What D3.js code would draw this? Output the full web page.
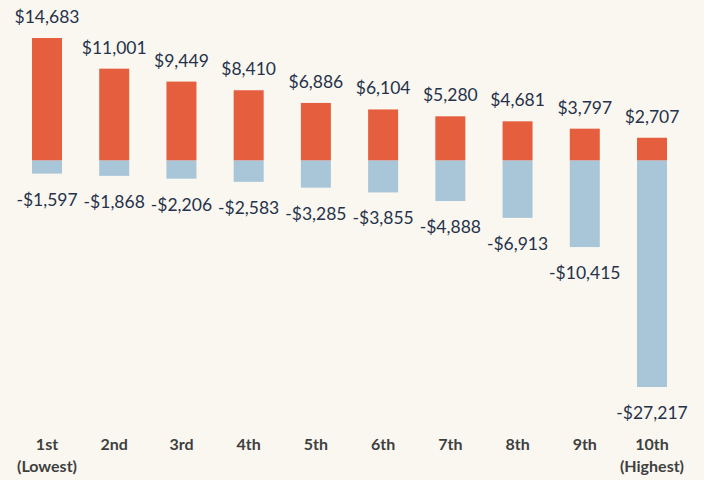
<!DOCTYPE html>
<html>
<head>
<meta charset="utf-8">
<script src="https://cdn.jsdelivr.net/npm/d3@7"></script>
<style>
  body { margin: 0; background: #f9f7f0; }
  svg { display: block; }
  .val { font-family: Lato, "Open Sans", sans-serif; font-size: 17.5px; fill: #26324a; }
  .cat { font-family: Lato, "Open Sans", sans-serif; font-size: 16px; font-weight: bold; fill: #3f3f3f; }
</style>
</head>
<body>
<div id="vis"></div>
<script>
const categories = ["1st", "2nd", "3rd", "4th", "5th", "6th", "7th", "8th", "9th", "10th"];
const subLabels = ["(Lowest)", "", "", "", "", "", "", "", "", "(Highest)"];
const gains = [14683, 11001, 9449, 8410, 6886, 6104, 5280, 4681, 3797, 2707];
const losses = [-1597, -1868, -2206, -2583, -3285, -3855, -4888, -6913, -10415, -27217];

const width = 704, height = 480;
const barWidth = 30;
const fmt = d3.format(",");
const money = v => (v < 0 ? "-$" : "$") + fmt(Math.abs(v));

const svg = d3.select("#vis").append("svg")
  .attr("width", width)
  .attr("height", height);

const x = d3.scalePoint().domain(categories).range([47, 652]);
const y = d3.scaleLinear().domain([d3.min(losses), d3.max(gains)]).range([387, 38]);

const rows = categories.map((c, i) => ({ cat: c, sub: subLabels[i], gain: gains[i], loss: losses[i] }));

// negative bars
svg.append("g").selectAll("rect")
  .data(rows).enter().append("rect")
  .attr("x", d => x(d.cat) - barWidth / 2)
  .attr("y", y(0))
  .attr("width", barWidth)
  .attr("height", d => y(d.loss) - y(0))
  .attr("fill", "#a9c6d8");

// positive bars
svg.append("g").selectAll("rect")
  .data(rows).enter().append("rect")
  .attr("x", d => x(d.cat) - barWidth / 2)
  .attr("y", d => y(d.gain))
  .attr("width", barWidth)
  .attr("height", d => y(0) - y(d.gain))
  .attr("fill", "#e55f3f");

// value labels
svg.append("g").selectAll("text")
  .data(rows).enter().append("text")
  .attr("class", "val")
  .attr("text-anchor", "middle")
  .attr("x", d => x(d.cat))
  .attr("y", d => y(d.gain) - 15)
  .text(d => money(d.gain));

svg.append("g").selectAll("text")
  .data(rows).enter().append("text")
  .attr("class", "val")
  .attr("text-anchor", "middle")
  .attr("x", d => x(d.cat))
  .attr("y", d => y(d.loss) + 32)
  .text(d => money(d.loss));

// category labels
const cats = svg.append("g").selectAll("text")
  .data(rows).enter().append("text")
  .attr("class", "cat")
  .attr("text-anchor", "middle")
  .attr("x", d => x(d.cat))
  .attr("y", 450);
cats.append("tspan").text(d => d.cat);
cats.append("tspan")
  .attr("x", d => x(d.cat))
  .attr("dy", 22)
  .text(d => d.sub);
</script>
</body>
</html>
